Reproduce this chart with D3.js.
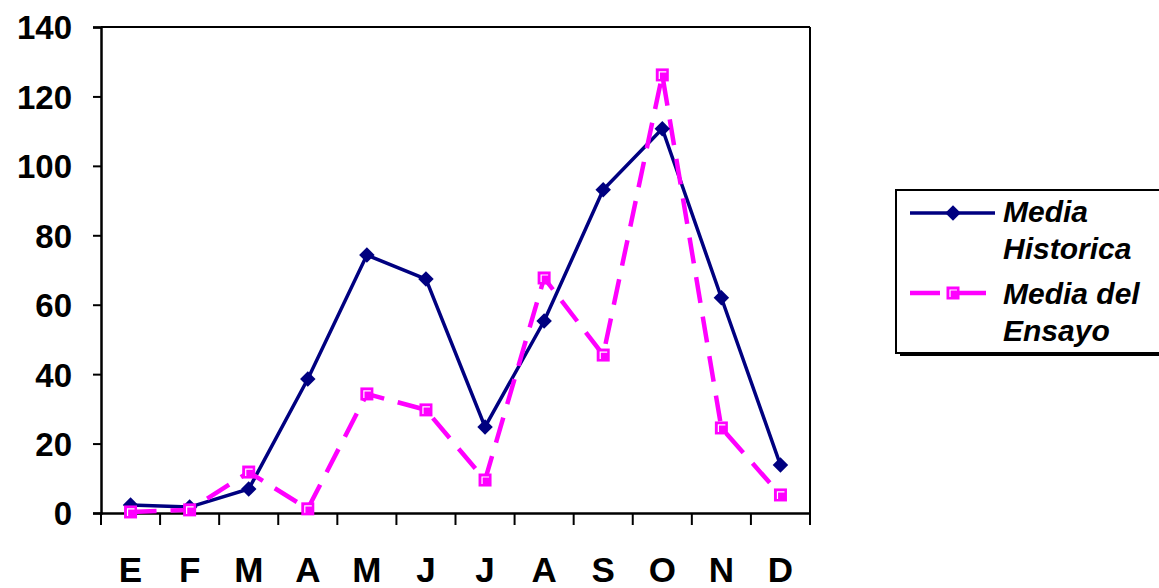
<!DOCTYPE html>
<html><head><meta charset="utf-8">
<script src="https://cdn.jsdelivr.net/npm/d3@7"></script>
<style>body{margin:0;background:#fff}svg{display:block}text{font-family:"Liberation Sans",Arial,sans-serif;font-weight:bold}</style>
</head><body>
<svg id="c" width="1159" height="588"></svg>
<script>
const months = ["E","F","M","A","M","J","J","A","S","O","N","D"];
const historica = [2.3,1.7,6.9,38.6,74.3,67.4,24.8,55.3,93.1,110.7,62.0,13.8];
const ensayo = [0.3,0.9,11.8,1.2,34.3,29.7,9.5,67.7,45.5,126.2,24.5,5.2];
const yTicks = [0,20,40,60,80,100,120,140];

const svg = d3.select("#c");
const L=101,R=810,T=27,B=513;
const idx = d3.range(months.length);
const xb = d3.scaleBand().domain(idx).range([L,R]);
const y = d3.scaleLinear().domain([0,140]).range([B,T]);
const xc = i => xb(i)+xb.bandwidth()/2;

// frame top and right
svg.append("line").attr("x1",L).attr("x2",R).attr("y1",T).attr("y2",T).attr("stroke","#000").attr("stroke-width",2);
svg.append("line").attr("x1",R).attr("x2",R).attr("y1",T).attr("y2",B).attr("stroke","#000").attr("stroke-width",2);

// y axis
const ya = svg.append("g").attr("transform",`translate(${L},0)`)
  .call(d3.axisLeft(y).tickValues(yTicks).tickSize(8).tickPadding(21));
ya.select(".domain").attr("stroke","#000").attr("stroke-width",2.5);
ya.selectAll(".tick line").attr("stroke","#000").attr("stroke-width",2);
ya.selectAll("text").attr("font-size",33).attr("fill","#000").attr("dy","0.36em");

// x axis
const xa = svg.append("g").attr("transform",`translate(0,${B})`)
  .call(d3.axisBottom(xb).tickSize(0).tickFormat(i=>months[i]).tickPadding(44));
xa.select(".domain").attr("stroke","#000").attr("stroke-width",2.5);
xa.selectAll("text").attr("font-size",35).attr("fill","#000");
// boundary ticks
svg.append("g").selectAll("line").data(d3.range(months.length+1)).join("line")
  .attr("x1",i=>L+i*xb.step()).attr("x2",i=>L+i*xb.step())
  .attr("y1",B).attr("y2",B+12).attr("stroke","#000").attr("stroke-width",2);

const line = d3.line().x((d,i)=>xc(i)).y(d=>y(d));
svg.append("path").datum(historica).attr("d",line).attr("fill","none").attr("stroke","#000080").attr("stroke-width",3.5);
svg.append("path").datum(ensayo).attr("d",line).attr("fill","none").attr("stroke","#FF00FF").attr("stroke-width",4.5).attr("stroke-dasharray","26,14");

function square(g,cx,cy){
  g.append("rect").attr("x",cx-6.5).attr("y",cy-6.5).attr("width",13).attr("height",13).attr("fill","#FF00FF");
  g.append("path").attr("d",`M${cx-3},${cy+4}V${cy-3}H${cx+4}`).attr("fill","none").attr("stroke","#fff").attr("stroke-width",1.2);
}
const mk = svg.append("g");
historica.forEach((d,i)=>{
  mk.append("path").attr("d",d3.symbol(d3.symbolSquare,120)()).attr("transform",`translate(${xc(i)},${y(d)}) rotate(45)`).attr("fill","#000080");
});
ensayo.forEach((d,i)=>square(mk,xc(i),y(d)));

// legend
const lg = svg.append("g");
lg.append("rect").attr("x",900).attr("y",193).attr("width",270).attr("height",163).attr("fill","#000");
lg.append("rect").attr("x",896).attr("y",190).attr("width",270).attr("height",163).attr("fill","#fff").attr("stroke","#000").attr("stroke-width",2);
lg.append("line").attr("x1",910).attr("x2",995).attr("y1",213).attr("y2",213).attr("stroke","#000080").attr("stroke-width",3.5);
lg.append("path").attr("d",d3.symbol(d3.symbolSquare,120)()).attr("transform",`translate(953,213) rotate(45)`).attr("fill","#000080");
lg.append("line").attr("x1",910).attr("x2",995).attr("y1",293).attr("y2",293).attr("stroke","#FF00FF").attr("stroke-width",4.5).attr("stroke-dasharray","30,16");
square(lg,953,293);
const lt = [["Media",222],["Historica",259],["Media del",304],["Ensayo",341]];
lg.selectAll("text.l").data(lt).join("text").attr("class","l").attr("x",1003).attr("y",d=>d[1])
  .attr("font-size",30).attr("font-style","italic").attr("fill","#000").text(d=>d[0]);
</script>
</body></html>
